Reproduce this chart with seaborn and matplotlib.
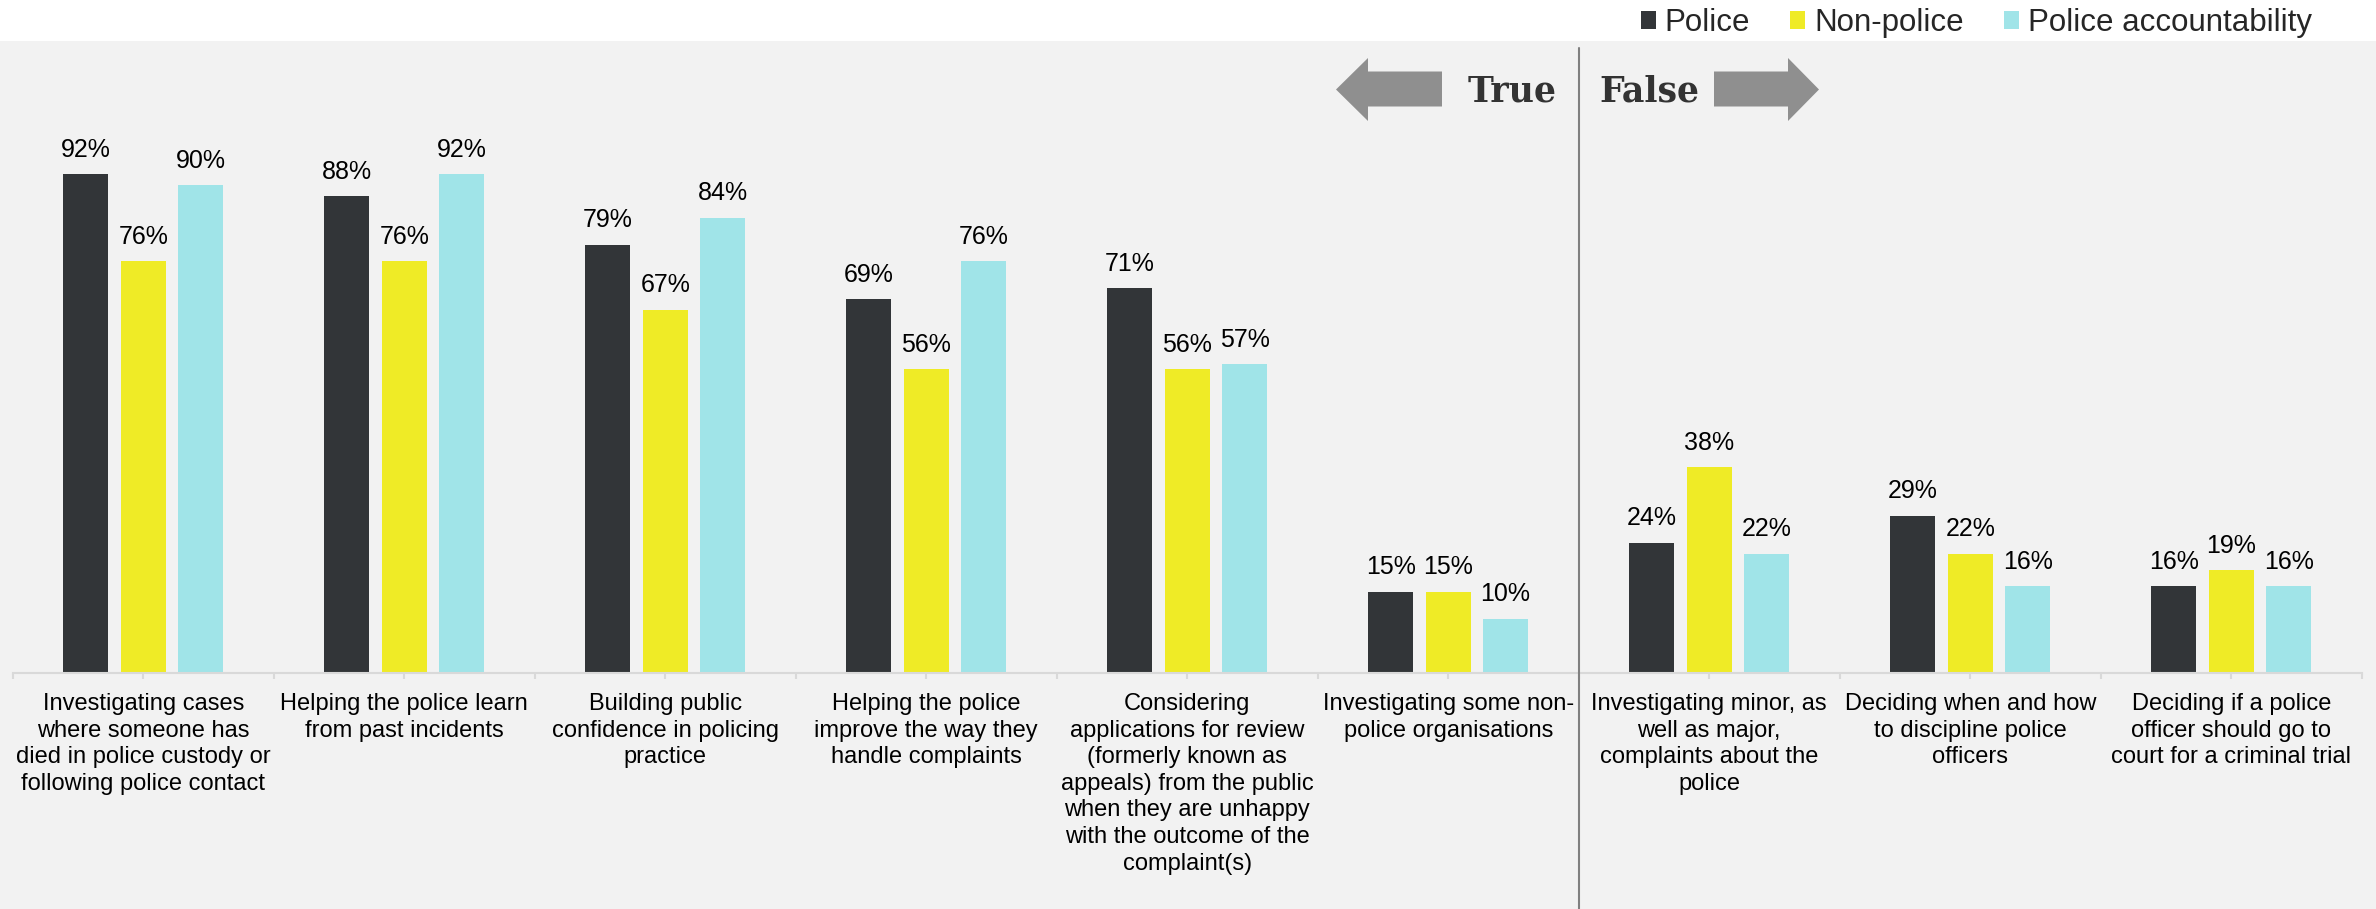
import numpy as np
import pandas as pd
import matplotlib
matplotlib.use("Agg")
import matplotlib.pyplot as plt
import seaborn as sns
from matplotlib.patches import Rectangle, Polygon
from matplotlib.ticker import FixedLocator

# ---- data ----
categories = [
    "Investigating cases\nwhere someone has\ndied in police custody or\nfollowing police contact",
    "Helping the police learn\nfrom past incidents",
    "Building public\nconfidence in policing\npractice",
    "Helping the police\nimprove the way they\nhandle complaints",
    "Considering\napplications for review\n(formerly known as\nappeals) from the public\nwhen they are unhappy\nwith the outcome of the\ncomplaint(s)",
    "Investigating some non-\npolice organisations",
    "Investigating minor, as\nwell as major,\ncomplaints about the\npolice",
    "Deciding when and how\nto discipline police\nofficers",
    "Deciding if a police\nofficer should go to\ncourt for a criminal trial",
]
groups = ["Police", "Non-police", "Police accountability"]
police = [92, 88, 79, 69, 71, 15, 24, 29, 16]
non_police = [76, 76, 67, 56, 56, 15, 38, 22, 19]
accountability = [90, 92, 84, 76, 57, 10, 22, 16, 16]
palette = ["#323538", "#efeb26", "#a0e4e8"]

sns.set_theme(style="white")
plt.rcParams["font.family"] = ["Liberation Sans", "DejaVu Sans"]

W, H = 2376, 909
fig = plt.figure(figsize=(W / 100, H / 100), dpi=100, facecolor="white")


def fpos(x, y):
    """pixel position (from top-left) -> figure fraction"""
    return (x / W, 1 - y / H)


# light grey panel under the chart, white strip above for the legend
fig.patches.append(Rectangle((0, 0), 1, (H - 40.7) / H, transform=fig.transFigure,
                             facecolor="#f2f2f2", edgecolor="none", zorder=-10))

ax = fig.add_axes([12.7 / W, (H - 673) / H, 2349 / W, 542 / H])
ax.set_facecolor("none")

df = pd.DataFrame({
    "category": categories * 3,
    "group": np.repeat(groups, len(categories)),
    "value": police + non_police + accountability,
})
sns.barplot(data=df, x="category", y="value", hue="group", hue_order=groups,
            order=categories, palette=palette, width=0.66, gap=0.21,
            saturation=1, linewidth=0, ax=ax)

ax.set_xlim(-0.5, len(categories) - 0.5)
ax.set_ylim(0, 100)
ax.set_xlabel("")
ax.set_ylabel("")
ax.set_yticks([])
for side in ["left", "right", "top"]:
    ax.spines[side].set_visible(False)
ax.spines["bottom"].set_color("#d9d9d9")
ax.spines["bottom"].set_linewidth(1.5)
ax.xaxis.set_minor_locator(FixedLocator(np.arange(-0.5, len(categories), 1.0)))
ax.tick_params(axis="x", which="both", bottom=True, length=4.5, width=1.5,
               color="#d9d9d9", direction="out")
ax.tick_params(axis="x", which="major", labelsize=17, labelcolor="black", pad=10)
for lbl in ax.get_xticklabels():
    lbl.set_linespacing(1.27)

for cont in ax.containers:
    ax.bar_label(cont, fmt="{:.0f}%", padding=9, fontsize=18, color="black")

# divider between the "True" and "False" statements
ax.plot([5.5, 5.5], [(673 - 909) / 542 * 100, (673 - 48) / 542 * 100],
        color="#808080", lw=1.5, clip_on=False, zorder=3)

# direction arrows
left_arrow = [(1336, 89.5), (1368, 58), (1368, 71.5), (1442, 71.5),
              (1442, 106.5), (1368, 106.5), (1368, 121)]
right_arrow = [(1819, 89.5), (1788, 58), (1788, 71.5), (1714, 71.5),
               (1714, 106.5), (1788, 106.5), (1788, 121)]
for pts in (left_arrow, right_arrow):
    fig.patches.append(Polygon([fpos(*p) for p in pts], closed=True,
                               transform=fig.transFigure, facecolor="#8f8f8f",
                               edgecolor="none", zorder=2))

fig.text(*fpos(1557, 102), "True", ha="right", va="baseline", fontsize=25,
         fontweight="bold", family="DejaVu Serif", color="#333333")
fig.text(*fpos(1599, 102), "False", ha="left", va="baseline", fontsize=25,
         fontweight="bold", family="DejaVu Serif", color="#333333")

# legend in the white strip at the top
handles, labels = ax.get_legend_handles_labels()
if ax.get_legend() is not None:
    ax.get_legend().remove()
fig.legend(handles, labels, loc="center right", bbox_to_anchor=fpos(2312, 23),
           ncol=3, frameon=False, fontsize=22.5, handlelength=0.48,
           handleheight=0.48, handletextpad=0.29, columnspacing=1.28,
           borderpad=0, borderaxespad=0)

fig.savefig("out.png", dpi=100, facecolor="white")
